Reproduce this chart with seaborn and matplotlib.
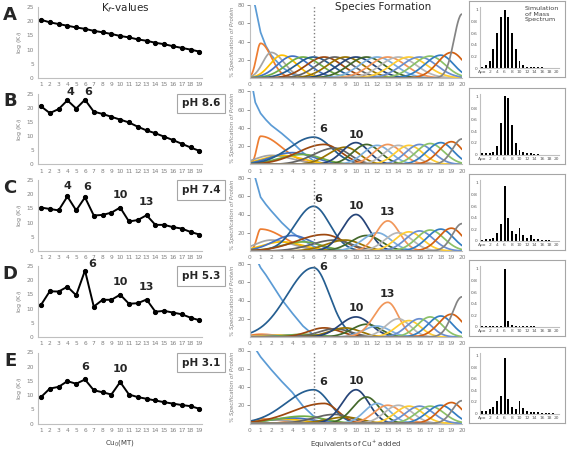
import numpy as np
import pandas as pd
import matplotlib
matplotlib.use("Agg")
import matplotlib.pyplot as plt
import seaborn as sns

sns.set_theme(style="white")
plt.rcParams['font.family'] = ['DejaVu Sans']

# ---- data ----
rows = ["A", "B", "C", "D", "E"]
ph_labels = [None, "pH 8.6", "pH 7.4", "pH 5.3", "pH 3.1"]

cu_mt = list(range(1, 20))
kf_a = [20.5, 19.6, 19.0, 18.4, 17.8, 17.3, 16.6, 16.1, 15.5, 14.8, 14.3, 13.6, 13.1, 12.4, 11.9, 11.2, 10.6, 10.0, 9.3]
kf_b = [20.5, 18.1, 19.5, 22.6, 19.7, 22.8, 18.6, 17.8, 16.8, 15.8, 14.8, 13.3, 12.0, 11.0, 9.8, 8.6, 7.3, 6.0, 4.8]
kf_c = [15.3, 14.8, 14.3, 19.2, 14.3, 18.9, 12.5, 12.7, 13.5, 15.3, 10.4, 10.9, 12.6, 9.2, 9.2, 8.4, 7.9, 6.7, 5.8]
kf_d = [11.3, 16.1, 16.0, 17.7, 14.7, 23.4, 10.7, 13.1, 13.1, 14.9, 11.7, 11.9, 13.2, 8.9, 9.2, 8.6, 8.0, 6.8, 5.9]
kf_e = [9.3, 12.3, 12.9, 14.9, 14.0, 15.5, 11.7, 11.0, 10.2, 14.6, 10.2, 9.3, 8.7, 8.1, 7.5, 7.0, 6.5, 6.1, 5.2]

# peak labels on the Kf lines: (text, x, y)
kf_notes_b = [("4", 4.4, 23.6), ("6", 6.4, 23.8)]
kf_notes_c = [("4", 4.0, 21.0), ("6", 6.2, 20.8), ("10", 10.0, 18.0), ("13", 13.0, 15.5)]
kf_notes_d = [("6", 6.8, 24.0), ("10", 10.0, 17.5), ("13", 13.0, 15.8)]
kf_notes_e = [("6", 6.0, 18.0), ("10", 10.0, 17.5)]

# species 0 (apo) sampled along the x axis
apo_x = [0, 0.5, 1, 1.5, 2, 3, 4, 5, 6, 7, 8]
apo_a = [100, 78, 50, 35, 25, 12, 4, 1, 0.3, 0, 0]
apo_b = [100, 68, 56, 49, 43, 34, 24, 13, 4, 1, 0]
apo_c = [100, 80, 59, 51, 44, 31, 20, 12, 5, 1, 0]
apo_d = [100, 88, 76, 68, 59, 41, 26, 12, 2, 0.5, 0]
apo_e = [100, 82, 73, 66, 59, 46, 34, 19, 8, 4, 1]

# species 1..20: peak position, peak height and left/right spread
peak_pos = list(range(1, 21))
height_a = [38, 28, 25, 24, 23, 23, 23, 23, 23, 23, 23, 23, 23, 23, 23, 23, 24, 25, 28, 70]
wl_a = [0.4, 0.8, 1.1, 1.4, 1.6, 1.7, 1.7, 1.7, 1.7, 1.7, 1.7, 1.7, 1.7, 1.7, 1.7, 1.7, 1.6, 1.5, 1.3, 0.75]
wr_a = [1.0, 1.2, 1.4, 1.6, 1.7, 1.7, 1.7, 1.7, 1.7, 1.7, 1.7, 1.7, 1.7, 1.7, 1.7, 1.6, 1.4, 1.2, 1.2, 1.0]

height_b = [31, 10, 10, 13, 11, 30, 22, 18, 19, 24, 22, 21, 22, 21, 21, 22, 23, 24, 25, 28]
wl_b = [0.35, 1.5, 1.8, 2.0, 2.2, 2.3, 2.5, 2.0, 1.6, 1.3, 1.3, 1.3, 1.3, 1.3, 1.3, 1.3, 1.3, 1.3, 1.2, 0.9]
wr_b = [2.0, 2.0, 2.0, 2.0, 1.8, 1.7, 1.6, 1.4, 1.3, 1.2, 1.3, 1.3, 1.3, 1.3, 1.3, 1.3, 1.3, 1.2, 1.1, 1.0]

height_c = [24, 12, 10, 17, 10, 49, 18, 12, 12, 40, 17, 20, 33, 20, 21, 22, 23, 24, 25, 30]
wl_c = [0.35, 1.5, 1.8, 1.8, 2.0, 1.7, 2.6, 2.2, 1.8, 1.3, 1.5, 1.4, 1.1, 1.3, 1.3, 1.3, 1.3, 1.3, 1.2, 0.9]
wr_c = [2.2, 2.0, 2.0, 1.8, 1.8, 1.5, 1.8, 1.6, 1.5, 1.2, 1.4, 1.3, 1.1, 1.3, 1.3, 1.3, 1.3, 1.2, 1.1, 1.0]

height_d = [3, 2, 2, 2, 3, 76, 10, 9, 10, 22, 14, 12, 38, 20, 18, 20, 22, 23, 25, 44]
wl_d = [1.0, 1.5, 1.5, 1.5, 1.5, 2.5, 1.5, 1.5, 1.5, 1.5, 1.4, 1.3, 1.3, 1.2, 1.2, 1.2, 1.2, 1.2, 1.2, 0.9]
wr_d = [1.5, 1.5, 1.5, 1.5, 1.5, 1.5, 1.5, 1.5, 1.4, 1.4, 1.3, 1.2, 1.0, 1.1, 1.1, 1.1, 1.1, 1.1, 1.1, 1.0]

height_e = [5, 4, 5, 6, 8, 37, 22, 10, 7, 37, 29, 22, 20, 20, 19, 19, 19, 20, 23, 25]
wl_e = [0.6, 1.5, 2.0, 2.2, 2.5, 2.6, 3.0, 2.0, 1.8, 1.3, 1.3, 1.2, 1.3, 1.3, 1.3, 1.3, 1.3, 1.3, 1.2, 0.9]
wr_e = [2.0, 2.0, 2.0, 2.0, 2.0, 1.5, 1.3, 1.5, 1.5, 1.2, 1.2, 1.2, 1.3, 1.3, 1.3, 1.3, 1.3, 1.2, 1.1, 1.0]

species_notes_b = [("6", 6.9, 33), ("10", 10.0, 27)]
species_notes_c = [("6", 6.4, 52), ("10", 10.0, 44), ("13", 13.0, 37)]
species_notes_d = [("6", 6.9, 71), ("10", 10.0, 26), ("13", 13.0, 42)]
species_notes_e = [("6", 6.9, 40), ("10", 10.0, 41)]

# Excel style series colours, species 0..20
species_colors = ["#5B9BD5", "#ED7D31", "#A5A5A5", "#FFC000", "#4472C4", "#70AD47",
                  "#255E91", "#9E480E", "#636363", "#997300", "#264478", "#43682B",
                  "#7CAFDD", "#F1975A", "#B7B7B7", "#FFCD33", "#698ED0", "#8CC168",
                  "#327DC2", "#D26012", "#848484"]

ms_labels = ["Apo"] + [str(i) for i in range(1, 21)]
ms_a = [0.02, 0.05, 0.12, 0.33, 0.60, 0.88, 1.0, 0.88, 0.60, 0.33, 0.12, 0.05, 0.02, 0.01, 0.01, 0.01, 0.01, 0, 0, 0, 0]
ms_b = [0.02, 0.02, 0.03, 0.05, 0.15, 0.55, 1.0, 0.98, 0.5, 0.2, 0.08, 0.04, 0.03, 0.02, 0.01, 0.01, 0, 0, 0, 0, 0]
ms_c = [0.02, 0.03, 0.04, 0.06, 0.14, 0.3, 0.95, 0.4, 0.18, 0.12, 0.22, 0.1, 0.05, 0.1, 0.04, 0.03, 0.02, 0.01, 0.01, 0, 0]
ms_d = [0.02, 0.02, 0.02, 0.02, 0.02, 0.02, 1.0, 0.1, 0.04, 0.02, 0.02, 0.02, 0.02, 0.02, 0.02, 0, 0, 0, 0, 0, 0]
ms_e = [0.05, 0.05, 0.08, 0.12, 0.22, 0.3, 0.95, 0.25, 0.12, 0.08, 0.22, 0.1, 0.05, 0.03, 0.02, 0.02, 0.01, 0.01, 0.01, 0.01, 0]

kf_all = [kf_a, kf_b, kf_c, kf_d, kf_e]
kf_notes = [[], kf_notes_b, kf_notes_c, kf_notes_d, kf_notes_e]
apo_all = [apo_a, apo_b, apo_c, apo_d, apo_e]
heights = [height_a, height_b, height_c, height_d, height_e]
wls = [wl_a, wl_b, wl_c, wl_d, wl_e]
wrs = [wr_a, wr_b, wr_c, wr_d, wr_e]
sp_notes = [[], species_notes_b, species_notes_c, species_notes_d, species_notes_e]
ms_all = [ms_a, ms_b, ms_c, ms_d, ms_e]

# ---- layout (pixel positions of each row's zero line) ----
W, H = 567, 449
row_base = [78, 164.5, 251, 337, 423.5]
tick_grey = "#7F7F7F"
spine_grey = "#BFBFBF"


def rect(x0, y_bottom, w, h):
    return [x0 / W, 1 - y_bottom / H, w / W, h / H]


def style_spines(ax):
    for s in ["top", "right"]:
        ax.spines[s].set_visible(False)
    for s in ["left", "bottom"]:
        ax.spines[s].set_color(spine_grey)
        ax.spines[s].set_linewidth(0.8)


fig = plt.figure(figsize=(W / 100, H / 100), dpi=100)
grid = np.linspace(0, 20, 401)

for i, row in enumerate(rows):
    base = row_base[i]

    # Kf values
    ax = fig.add_axes(rect(38, base, 164, 71))
    sns.lineplot(x=cu_mt, y=kf_all[i], color="black", marker="o", markersize=3,
                 markeredgecolor="black", linewidth=1.4, ax=ax)
    ax.set_xlim(0.66, 19.3)
    ax.set_ylim(0, 25)
    ax.set_xticks(cu_mt)
    ax.set_yticks([0, 5, 10, 15, 20, 25])
    ax.tick_params(labelsize=4.2, colors=tick_grey, length=0, pad=3)
    ax.set_ylabel("log (K$_f$)", fontsize=4.5, color=tick_grey, labelpad=2)
    style_spines(ax)
    for txt, x, y in kf_notes[i]:
        ax.text(x, y, txt, fontsize=8, ha="center", va="bottom", fontweight="semibold")
    if i == 4:
        ax.set_xlabel("Cu$_0$(MT)", fontsize=5, color="#404040", labelpad=4)

    fig.text(10 / W, 1 - (base - 63) / H, row, fontsize=13, fontweight="bold",
             ha="center", va="center")
    if ph_labels[i]:
        fig.text(201 / W, 1 - (base - 61) / H, ph_labels[i], fontsize=7.5,
                 fontweight="semibold", ha="center", va="center",
                 bbox=dict(boxstyle="square,pad=0.45", fc="white", ec="#A6A6A6", lw=0.8))

    # species formation
    ax = fig.add_axes(rect(250, base, 212, 73))
    frames = [pd.DataFrame({"x": apo_x, "pct": apo_all[i], "species": "0"})]
    for k, pos in enumerate(peak_pos):
        w = np.where(grid < pos, wls[i][k], wrs[i][k])
        y = heights[i][k] * np.exp(-0.5 * ((grid - pos) / w) ** 2)
        frames.append(pd.DataFrame({"x": grid, "pct": y, "species": str(pos)}))
    df = pd.concat(frames, ignore_index=True)
    order = [str(s) for s in range(21)]
    sns.lineplot(data=df, x="x", y="pct", hue="species", hue_order=order,
                 palette=dict(zip(order, species_colors)), estimator=None, sort=False,
                 legend=False, linewidth=1.25, ax=ax)
    ax.axvline(6, color="#7F7F7F", linestyle=":", linewidth=1)
    ax.set_xlim(0, 20)
    ax.set_ylim(0, 80)
    ax.set_xticks(range(0, 21))
    ax.set_yticks([20, 40, 60, 80])
    ax.tick_params(axis="x", labelsize=4.2, colors=tick_grey, length=0, pad=3)
    ax.tick_params(axis="y", labelsize=4.2, colors=tick_grey, length=2, width=0.6, pad=1.5, left=True)
    ax.set_ylabel("% Specification of Protein", fontsize=4, color=tick_grey, labelpad=2,
                  fontstyle="italic")
    ax.set_xlabel("")
    style_spines(ax)
    for txt, x, y in sp_notes[i]:
        ax.text(x, y, txt, fontsize=8, ha="center", va="bottom", fontweight="semibold")
    if i == 4:
        ax.set_xlabel("Equivalents of Cu$^{+}$ added", fontsize=5, color="#404040", labelpad=4)

    # mass spectrum
    box = fig.add_axes(rect(469, base - 1, 96, 76))
    box.set_xticks([])
    box.set_yticks([])
    for s in box.spines.values():
        s.set_color("#A6A6A6")
        s.set_linewidth(0.8)
    ax = fig.add_axes(rect(480, base - 10, 79, 61))
    sns.barplot(x=ms_labels, y=ms_all[i], order=ms_labels, color="black", width=0.5,
                edgecolor="black", linewidth=0, saturation=1, ax=ax)
    ax.set_xlim(-0.6, 20.6)
    ax.set_ylim(0, 1.05)
    ax.set_xticks(range(0, 21, 2))
    ax.set_xticklabels([ms_labels[j] for j in range(0, 21, 2)])
    ax.set_yticks([0, 0.2, 0.4, 0.6, 0.8, 1])
    ax.set_yticklabels(["0", "0.2", "0.4", "0.6", "0.8", "1"])
    ax.tick_params(labelsize=3.2, colors="#595959", length=0, pad=1.5)
    style_spines(ax)
    ax.patch.set_alpha(0)
    if i == 0:
        ax.text(0.57, 1.02, "Simulation\nof Mass\nSpectrum", transform=ax.transAxes,
                fontsize=4.6, color="#404040", va="top", ha="left", linespacing=1.2)

fig.text(125 / W, 1 - 8 / H, "K$_f$-values", fontsize=7.5, ha="center", va="center",
         color="#262626")
fig.text(383 / W, 1 - 7 / H, "Species Formation", fontsize=7.5, ha="center", va="center",
         color="#262626")

fig.savefig("out.png", dpi=100)
